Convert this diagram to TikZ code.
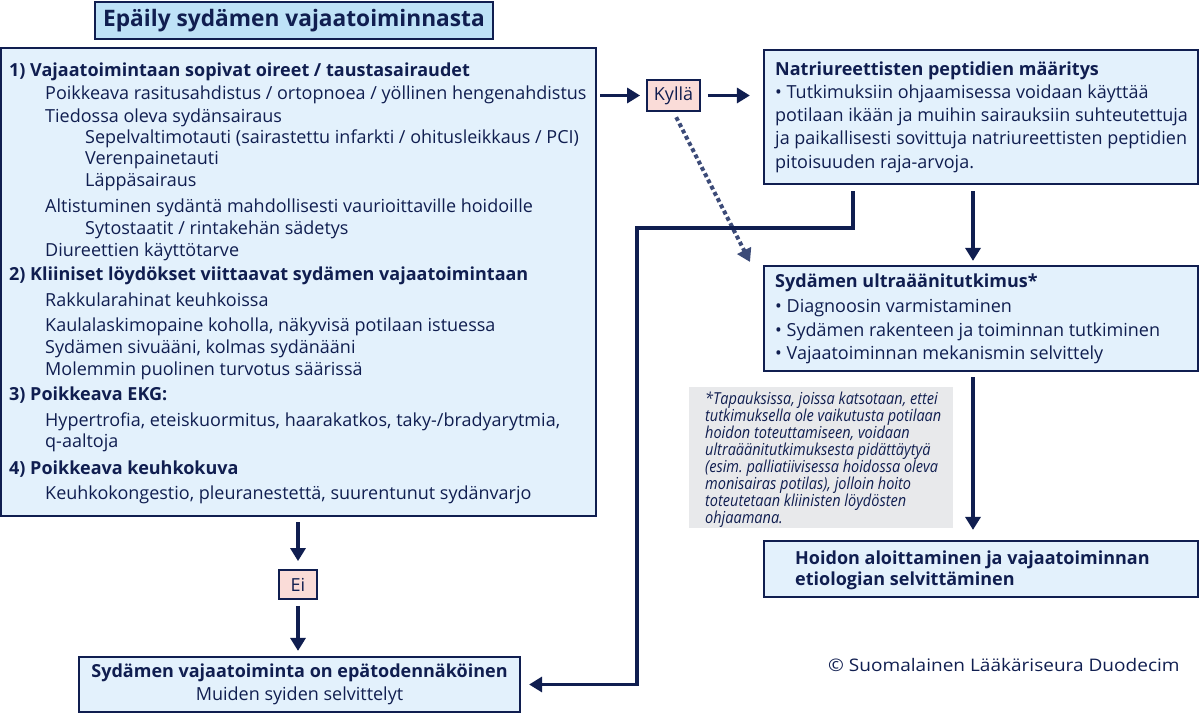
\documentclass[tikz,border=0pt]{standalone}
\usepackage{fontspec}
\setmainfont{Open Sans}
\newfontfamily\notefont{Open Sans}[FakeStretch=0.88]
\newfontfamily\widefont{Open Sans}[FakeStretch=1.1]
\usepackage{tikz}
\usetikzlibrary{arrows.meta,positioning}
\definecolor{navy}{RGB}{16, 30, 80}
\definecolor{boxfill}{RGB}{227, 241, 252}
\definecolor{titlefill}{RGB}{190, 226, 247}
\definecolor{answerfill}{RGB}{250, 220, 216}
\definecolor{notefill}{RGB}{232, 233, 235}
\definecolor{dotnavy}{RGB}{60, 75, 120}
\frenchspacing

\begin{document}
\begin{tikzpicture}[x=1pt, y=-1pt,
    every node/.style={font=\fontsize{18}{22}\selectfont, text=navy},
    box/.style={draw=navy, line width=2.2pt, fill=boxfill, inner sep=0pt},
    answer/.style={draw=navy, line width=1.8pt, fill=answerfill, inner sep=0pt},
    row/.style={anchor=west, inner sep=0pt, text height=13pt, text depth=4pt},
    headrow/.style={row, font=\fontsize{18}{22}\selectfont\bfseries},
    noterow/.style={anchor=west, inner sep=0pt, text height=12pt, text depth=3pt,
        font=\notefont\fontsize{16.5}{17}\selectfont\itshape},
    arrow/.style={draw=navy, line width=3.8pt, -{Triangle[length=13pt, width=15pt]}},
    dotarrow/.style={draw=dotnavy, line width=4pt, dash pattern=on 4pt off 3pt, -{Triangle[length=13pt, width=15pt]}}]
    \useasboundingbox (0, 0) rectangle (1200, 714);

    % suspicion
    \node (title) [box, fill=titlefill, minimum width=398pt, minimum height=37pt,
        font=\fontsize{22.7}{26}\selectfont\bfseries] at (294, 20.5) {Epäily sydämen vajaatoiminnasta};

    \node (crit) [box, minimum width=595pt, minimum height=468pt] at (298.5, 282) {};
    \node (r1) [headrow] at (9, 72) {1) Vajaatoimintaan sopivat oireet / taustasairaudet};
    \node (r2) [row] at (45, 95) {Poikkeava rasitusahdistus / ortopnoea / yöllinen hengenahdistus};
    \node (r3) [row] at (45, 118) {Tiedossa oleva sydänsairaus};
    \node (r4) [row] at (85, 139) {Sepelvaltimotauti (sairastettu infarkti / ohitusleikkaus / PCI)};
    \node (r5) [row] at (85, 160) {Verenpainetauti};
    \node (r6) [row] at (85, 182) {Läppäsairaus};
    \node (r7) [row] at (45, 208) {Altistuminen sydäntä mahdollisesti vaurioittaville hoidoille};
    \node (r8) [row] at (85, 230) {Sytostaatit / rintakehän sädetys};
    \node (r9) [row] at (45, 252) {Diureettien käyttötarve};
    \node (r10) [headrow] at (9, 276) {2) Kliiniset löydökset viittaavat sydämen vajaatoimintaan};
    \node (r11) [row] at (45, 302) {Rakkularahinat keuhkoissa};
    \node (r12) [row] at (45, 327) {Kaulalaskimopaine koholla, näkyvisä potilaan istuessa};
    \node (r13) [row] at (45, 349) {Sydämen sivuääni, kolmas sydänääni};
    \node (r14) [row] at (45, 371) {Molemmin puolinen turvotus säärissä};
    \node (r15) [headrow] at (9, 396) {3) Poikkeava EKG:};
    \node (r16) [row] at (45, 422) {Hypertrofia, eteiskuormitus, haarakatkos, taky-/bradyarytmia,};
    \node (r17) [row] at (45, 443) {q-aaltoja};
    \node (r18) [headrow] at (9, 470) {4) Poikkeava keuhkokuva};
    \node (r19) [row] at (45, 495) {Keuhkokongestio, pleuranestettä, suurentunut sydänvarjo};

    % answers
    \node (kylla) [answer, minimum width=53pt, minimum height=31pt] at (673.5, 95.5) {Kyllä};
    \node (ei) [answer, minimum width=38pt, minimum height=29pt] at (298, 584.5) {Ei};

    % natriuretic peptides
    \node (natri) [box, minimum width=434pt, minimum height=134pt] at (981, 117) {};
    \node (p1) [headrow] at (775, 71) {Natriureettisten peptidien määritys};
    \node (p2) [row] at (775, 94) {• Tutkimuksiin ohjaamisessa voidaan käyttää};
    \node (p3) [row] at (775, 117) {potilaan ikään ja muihin sairauksiin suhteutettuja};
    \node (p4) [row] at (775, 140) {ja paikallisesti sovittuja natriureettisten peptidien};
    \node (p5) [row] at (775, 164) {pitoisuuden raja-arvoja.};

    % echocardiography
    \node (ultra) [box, minimum width=434pt, minimum height=105pt] at (981, 318.5) {};
    \node (u1) [headrow] at (775, 283) {Sydämen ultraäänitutkimus*};
    \node (u2) [row] at (775, 308) {• Diagnoosin varmistaminen};
    \node (u3) [row] at (775, 332) {• Sydämen rakenteen ja toiminnan tutkiminen};
    \node (u4) [row] at (775, 355) {• Vajaatoiminnan mekanismin selvittely};

    % footnote
    \node (note) [fill=notefill, minimum width=264pt, minimum height=141pt, inner sep=0pt] at (821, 457.5) {};
    \node (n1) [noterow] at (705, 399.5) {*Tapauksissa, joissa katsotaan, ettei};
    \node (n2) [noterow] at (705, 416.5) {tutkimuksella ole vaikutusta potilaan};
    \node (n3) [noterow] at (705, 433.5) {hoidon toteuttamiseen, voidaan};
    \node (n4) [noterow] at (705, 450.5) {ultraäänitutkimuksesta pidättäytyä};
    \node (n5) [noterow] at (705, 467.5) {(esim. palliatiivisessa hoidossa oleva};
    \node (n6) [noterow] at (705, 484.5) {monisairas potilas), jolloin hoito};
    \node (n7) [noterow] at (705, 501.5) {toteutetaan kliinisten löydösten};
    \node (n8) [noterow] at (705, 518.5) {ohjaamana.};

    % treatment
    \node (hoito) [box, minimum width=434pt, minimum height=56pt] at (981, 569) {};
    \node (h1) [headrow] at (795, 560) {Hoidon aloittaminen ja vajaatoiminnan};
    \node (h2) [headrow] at (795, 581) {etiologian selvittäminen};

    \node (unlikely) [box, minimum width=441pt, minimum height=55pt, align=center,
        font=\fontsize{18}{23}\selectfont] at (299.5, 684.5)
        {\textbf{Sydämen vajaatoiminta on epätodennäköinen}\\ Muiden syiden selvittelyt};

    \node (copy) [anchor=west, inner sep=0pt, font=\widefont\fontsize{17.3}{20}\selectfont] at (828, 665)
        {© Suomalainen Lääkäriseura Duodecim};

    % connectors
    \coordinate (dottip) at (750, 262);
    \coordinate (bend) at (637, 228);
    \draw[arrow, shorten <=3pt, shorten >=6pt] (crit.east |- kylla.west) -- (kylla.west);
    \draw[arrow, shorten <=7pt, shorten >=13pt] (kylla.east) -- (natri.west |- kylla.east);
    \draw[dotarrow, shorten <=6pt] (kylla.south) -- (dottip);
    \draw[arrow, shorten <=6pt, shorten >=4pt] ([xshift=-8pt]natri.south) -- ([xshift=-8pt]ultra.north);
    \draw[arrow, shorten <=5pt, shorten >=10pt] ([xshift=-8pt]ultra.south) -- ([xshift=-8pt]hoito.north);
    \draw[arrow, line join=miter, shorten <=6pt, shorten >=8pt] ([xshift=-128pt]natri.south) |- (bend) |- (unlikely.east);
    \draw[arrow, shorten <=5pt, shorten >=8pt] (ei.north |- crit.south) -- (ei.north);
    \draw[arrow, shorten <=6pt, shorten >=5pt] (ei.south) -- (ei.south |- unlikely.north);
\end{tikzpicture}
\end{document}
